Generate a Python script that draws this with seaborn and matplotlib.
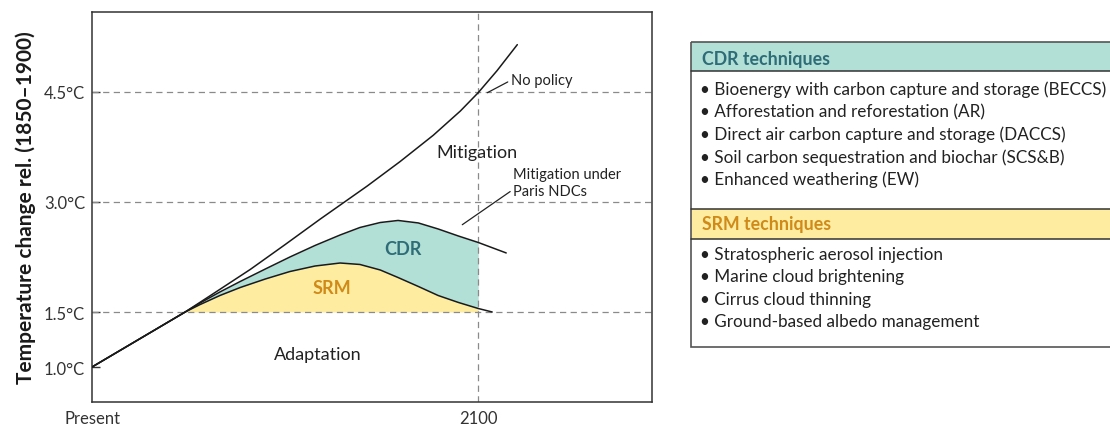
import numpy as np
import pandas as pd
import seaborn as sns
import matplotlib.pyplot as plt
from matplotlib.patches import Rectangle

sns.set_theme(style="white")
plt.rcParams['font.family'] = ['Lato', 'DejaVu Sans']

# curves (year, temperature change in degC)
no_policy_years = [2020, 2039.3, 2045.5, 2052.8, 2060.0, 2067.3, 2077.0, 2083.8,
                   2090.7, 2096.3, 2100.0, 2103.9, 2108.1]
no_policy_temp = [1.0, 1.5, 1.766, 2.081, 2.419, 2.768, 3.217, 3.55,
                  3.91, 4.24, 4.49, 4.79, 5.145]

path_years = [2020, 2039.3, 2042.4, 2046.5, 2050.7, 2055.9, 2061.0, 2066.2, 2071.4,
              2075.5, 2079.7, 2083.4, 2087.6, 2091.7, 2095.9, 2100.0]
paris_temp = [1.0, 1.5, 1.623, 1.773, 1.916, 2.086, 2.25, 2.407, 2.55,
              2.652, 2.72, 2.748, 2.714, 2.632, 2.536, 2.448]
srm_temp = [1.0, 1.5, 1.602, 1.725, 1.834, 1.95, 2.052, 2.127, 2.168,
            2.148, 2.073, 1.97, 1.848, 1.725, 1.63, 1.548]
paris_tail = (2105.8, 2.305)
srm_tail = (2102.9, 1.50)

ytick_vals = [1.0, 1.5, 3.0, 4.5]
ytick_labels = ["1.0°C", "1.5°C", "3.0°C", "4.5°C"]
xtick_vals = [2020, 2100]
xtick_labels = ["Present", "2100"]

cdr_items = ["Bioenergy with carbon capture and storage (BECCS)",
             "Afforestation and reforestation (AR)",
             "Direct air carbon capture and storage (DACCS)",
             "Soil carbon sequestration and biochar (SCS&B)",
             "Enhanced weathering (EW)"]
srm_items = ["Stratospheric aerosol injection",
             "Marine cloud brightening",
             "Cirrus cloud thinning",
             "Ground-based albedo management"]

teal = "#b2dfd6"
yellow = "#feeca0"
teal_txt = "#2e6d78"
orange_txt = "#d08a1a"
grid_c = "#8a8a8a"


def fwd(t):
    t = np.asarray(t, dtype=float)
    return np.where(t < 1.5, t - 1.0, 0.5 + (t - 1.5) / 1.5)


def inv(p):
    p = np.asarray(p, dtype=float)
    return np.where(p < 0.5, p + 1.0, 1.5 + (p - 0.5) * 1.5)


fig = plt.figure(figsize=(11.1, 4.27), dpi=100)
ax = fig.add_axes([92 / 1110, 1 - 403 / 427, 560 / 1110, 390 / 427])
ax.set_yscale('function', functions=(fwd, inv))

py = np.array(path_years, dtype=float)
pt = np.array(paris_temp)
st = np.array(srm_temp)
ax.fill_between(py, 1.5, st, where=st >= 1.5, color=yellow, lw=0)
ax.fill_between(py, st, pt, where=py >= 2039, color=teal, lw=0)

for v in [1.5, 3.0, 4.5]:
    ax.axhline(v, color=grid_c, lw=0.9, ls=(0, (5, 3.5)), zorder=1)
ax.axvline(2100, color=grid_c, lw=0.9, ls=(0, (5, 3.5)), zorder=1)

np_df = pd.DataFrame({"year": no_policy_years, "temp": no_policy_temp})
paris_df = pd.DataFrame({"year": path_years + [paris_tail[0]],
                         "temp": paris_temp + [paris_tail[1]]})
srm_df = pd.DataFrame({"year": path_years + [srm_tail[0]],
                       "temp": srm_temp + [srm_tail[1]]})
for d in [np_df, paris_df, srm_df]:
    sns.lineplot(data=d, x="year", y="temp", ax=ax, color="#1a1a1a", lw=1.1,
                 sort=False, estimator=None, zorder=3)

ax.set_xlim(2020, 2136)
ax.set_ylim(0.682, 5.59)
ax.set_yticks(ytick_vals)
ax.set_yticklabels(ytick_labels, fontsize=12, color="#333333")
ax.set_yticks([1.5, 3.0, 4.5], minor=True)
ax.tick_params(axis='y', which='major', direction='in', length=6, width=1,
               color="#333333", left=True, right=False, pad=5)
ax.tick_params(axis='y', which='minor', direction='in', length=6, width=1,
               color="#333333", left=False, right=True)
ax.set_xticks(xtick_vals)
ax.set_xticklabels(xtick_labels, fontsize=12, color="#333333")
ax.tick_params(axis='x', length=0, pad=6)
ax.set_xlabel("")
ax.set_ylabel("Temperature change rel. (1850–1900)", fontsize=15,
              fontweight="bold", color="#1a1a1a", labelpad=6)
for s in ax.spines.values():
    s.set_color("#333333")
    s.set_linewidth(1.1)

ax.text(2099.8, 3.68, "Mitigation", fontsize=13, ha="center", va="center", color="#222222")
ax.text(2066.8, 1.118, "Adaptation", fontsize=13, ha="center", va="center", color="#222222")
ax.text(2084.5, 2.36, "CDR", fontsize=13, fontweight="bold", ha="center", va="center", color=teal_txt)
ax.text(2069.7, 1.83, "SRM", fontsize=13, fontweight="bold", ha="center", va="center", color=orange_txt)
ax.annotate("No policy", xy=(2101.9, 4.49), xytext=(2106.8, 4.66), fontsize=10.5,
            ha="left", va="center", color="#222222",
            arrowprops=dict(arrowstyle="-", lw=0.9, color="#222222",
                            shrinkA=0, shrinkB=0, relpos=(0, 0.5)))
ax.annotate("Mitigation under\nParis NDCs", xy=(2096.7, 2.69), xytext=(2107.3, 3.27),
            fontsize=10.5, ha="left", va="center", color="#222222", linespacing=1.25,
            arrowprops=dict(arrowstyle="-", lw=0.9, color="#222222",
                            shrinkA=0, shrinkB=0, relpos=(-0.02, 0.22)))

# technique table on the right, in pixel coordinates
tab = fig.add_axes([0, 0, 1, 1])
tab.set_xlim(0, 1110)
tab.set_ylim(427, 0)
tab.axis("off")
tab.add_patch(Rectangle((691, 43), 500, 29, facecolor=teal, edgecolor="none"))
tab.add_patch(Rectangle((691, 210), 500, 30, facecolor=yellow, edgecolor="none"))
tab.add_patch(Rectangle((691, 43), 500, 305, facecolor="none", edgecolor="#555555", lw=1.2))
for yl in [72, 210, 240]:
    tab.plot([691, 1191], [yl, yl], color="#333333", lw=1.1)
tab.text(702, 59, "CDR techniques", fontsize=12.8, fontweight="bold", color=teal_txt, va="center")
tab.text(702, 225, "SRM techniques", fontsize=12.8, fontweight="bold", color=orange_txt, va="center")
for i, item in enumerate(cdr_items):
    tab.text(700, 90 + i * 22.5, "• " + item, fontsize=12.3, color="#222222", va="center")
for i, item in enumerate(srm_items):
    tab.text(700, 255 + i * 22.5, "• " + item, fontsize=12.3, color="#222222", va="center")

fig.savefig("out.png", dpi=100)
